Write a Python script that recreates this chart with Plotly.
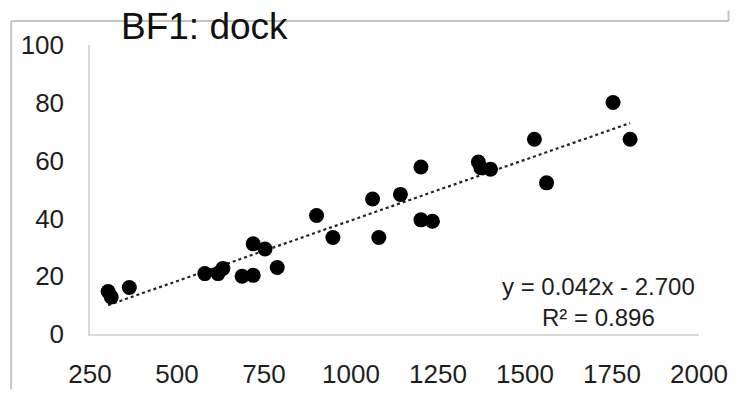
import plotly.graph_objects as go

# Data
x_vals = [302, 311, 363, 580, 618, 632, 687, 719, 719, 753, 788, 901, 948,
          1062, 1080, 1142, 1201, 1201, 1234, 1366, 1373, 1401, 1527, 1562,
          1753, 1802]
y_vals = [14.7, 12.8, 16.1, 20.9, 20.9, 22.7, 20.0, 20.3, 31.2, 29.4, 23.0,
          41.0, 33.4, 46.7, 33.4, 48.3, 57.8, 39.5, 39.0, 59.5, 57.5, 57.0,
          67.4, 52.3, 80.1, 67.4]
slope = 0.042
intercept = -2.700
r_squared = 0.896
x_ticks = [250, 500, 750, 1000, 1250, 1500, 1750, 2000]
y_ticks = [0, 20, 40, 60, 80, 100]
title_text = "BF1: dock"

W, H = 740, 401
L, R, T, B = 90, 32, 45, 54
pw, ph = W - L - R, H - T - B

def px2paper_x(px):
    return (px - L) / pw

def px2paper_y(py):
    return (H - B - py) / ph

trend_x = [min(x_vals), max(x_vals)]
trend_y = [slope * v + intercept for v in trend_x]

fig = go.Figure()
fig.add_trace(go.Scatter(
    x=trend_x, y=trend_y, mode="lines",
    line=dict(color="#222222", width=2.2, dash="dot"),
    hoverinfo="skip", showlegend=False))
fig.add_trace(go.Scatter(
    x=x_vals, y=y_vals, mode="markers",
    marker=dict(color="#000000", size=15, line=dict(width=0)),
    showlegend=False))

font_family = "Liberation Sans, Arial, sans-serif"
fig.update_layout(
    width=W, height=H,
    margin=dict(l=L, r=R, t=T, b=B),
    paper_bgcolor="white", plot_bgcolor="white",
    font=dict(family=font_family, color="#1e1e1e", size=26),
    xaxis=dict(range=[250, 2000], tickvals=x_ticks, showgrid=False,
               zeroline=False, showline=True, linecolor="#d9d9d9", linewidth=1.5,
               ticks="outside", ticklen=16, tickcolor="rgba(0,0,0,0)",
               tickfont=dict(size=26, color="#1e1e1e")),
    yaxis=dict(range=[0, 100], tickvals=y_ticks, showgrid=False,
               zeroline=False, showline=True, linecolor="#d9d9d9", linewidth=1.5,
               ticks="outside", ticklen=19, tickcolor="rgba(0,0,0,0)",
               tickfont=dict(size=26, color="#1e1e1e")),
    showlegend=False,
)

# Outer chart border (top, left and small right segment)
border = "#c4c4c4"
fig.add_shape(type="line", xref="paper", yref="paper",
              x0=px2paper_x(10), x1=px2paper_x(738),
              y0=px2paper_y(20), y1=px2paper_y(20),
              line=dict(color=border, width=2), layer="below")
fig.add_shape(type="line", xref="paper", yref="paper",
              x0=px2paper_x(10), x1=px2paper_x(10),
              y0=px2paper_y(20), y1=px2paper_y(405),
              line=dict(color=border, width=2), layer="below")
fig.add_shape(type="line", xref="paper", yref="paper",
              x0=px2paper_x(738), x1=px2paper_x(738),
              y0=px2paper_y(9), y1=px2paper_y(20),
              line=dict(color=border, width=2), layer="below")

fig.add_annotation(text=title_text, xref="paper", yref="paper",
                   x=px2paper_x(206), y=px2paper_y(26),
                   xanchor="center", yanchor="middle", showarrow=False,
                   font=dict(size=37, color="#111111", family=font_family))

fig.add_annotation(text=f"y = {slope:.3f}x - {abs(intercept):.3f}<br>R² = {r_squared:.3f}",
                   xref="paper", yref="paper",
                   x=px2paper_x(606), y=px2paper_y(314),
                   xanchor="center", yanchor="middle", showarrow=False,
                   align="center",
                   font=dict(size=24, color="#1e1e1e", family=font_family))

fig.write_html("out.html")
